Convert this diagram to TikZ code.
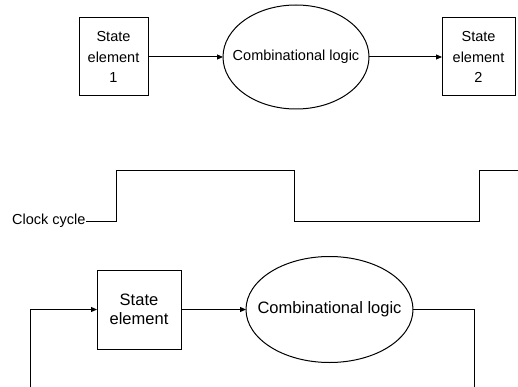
\documentclass[tikz,border=0pt]{standalone}
\usepackage{fontspec}
\setmainfont{Liberation Sans}
\usetikzlibrary{arrows.meta,shapes.geometric}
\begin{document}
\begin{tikzpicture}[x=1pt,y=-1pt,
  line width=1pt,
  statebox/.style={draw,rectangle,inner sep=0pt,outer sep=0pt,align=center},
  logic/.style={draw,ellipse,inner sep=0pt,outer sep=0pt},
  flow/.style={-{Triangle[length=6pt,width=5pt]}},
  txtA/.style={font=\fontsize{14.5}{20.5}\selectfont},
  txtB/.style={font=\fontsize{16.5}{19.5}\selectfont}]
\useasboundingbox (0,0) rectangle (518,387);

% first stage: element 1 -> logic -> element 2
\node[statebox,txtA,minimum width=69pt,minimum height=78pt] (se1) at (113.5,57) {State\\element\\1};
\node[logic,txtA,minimum width=146pt,minimum height=104pt] (cl1) at (296,57) {\makebox[0pt]{Combinational logic}};
\node[statebox,txtA,minimum width=73pt,minimum height=78pt] (se2) at (478.5,57) {State\\element\\2};
\draw[flow] (se1.east) -- (cl1.west);
\draw[flow] (cl1.east) -- (se2.west);

% clock waveform
\node[txtA,anchor=east,inner sep=0pt] (clk) at (86,221) {Clock cycle};
\coordinate (clkend) at (518,171);
\draw (clk.east) -- (116,221) -- (116,171) -- (294,171) -- (294,221)
      -- (479,221) -- (479,171) -- (clkend);

% second stage: element with feedback through logic
\node[statebox,txtB,minimum width=84pt,minimum height=79pt] (se3) at (139,309.5) {State\\element};
\node[logic,txtB,minimum width=167pt,minimum height=106pt] (cl2) at (329.5,309.5) {\makebox[0pt]{Combinational logic}};
\coordinate (fbR) at (474,387);
\coordinate (fbL) at (30,387);
\draw[flow] (se3.east) -- (cl2.west);
\draw (cl2.east) -| (fbR);
\draw[flow] (fbL) |- (se3.west);
\end{tikzpicture}
\end{document}
